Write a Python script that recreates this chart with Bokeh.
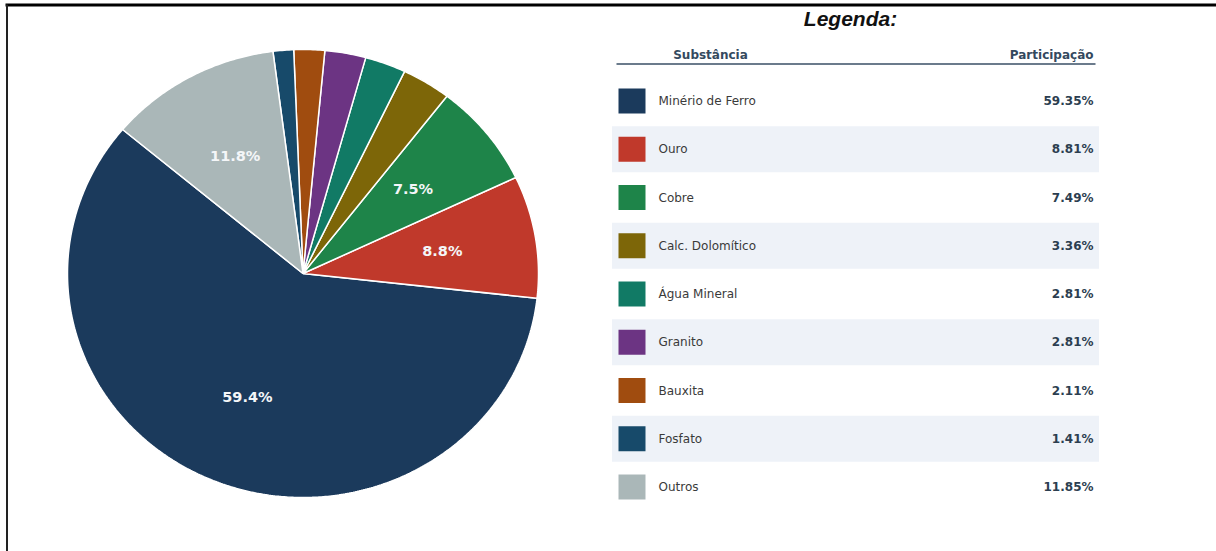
import numpy as np
from bokeh.plotting import figure
from bokeh.models import ColumnDataSource, Range1d
from bokeh.core.properties import value
from bokeh.embed import file_html
from bokeh.resources import INLINE

# ---- data ----
substancias = ["Minério de Ferro", "Ouro", "Cobre", "Calc. Dolomítico", "Água Mineral",
               "Granito", "Bauxita", "Fosfato", "Outros"]
participacao = [59.35, 8.81, 7.49, 3.36, 2.81, 2.81, 2.11, 1.41, 11.85]
cores = ["#1b3a5c", "#c0392b", "#1e8449", "#7d6608", "#117a65",
         "#6c3483", "#a04c0f", "#174a6a", "#aab7b8"]
titulo_legenda = "Legenda:"
cab_substancia = "Substância"
cab_participacao = "Participação"

# ---- layout constants (pixel space) ----
W, H = 1216, 551
cx, cy = 302.5, 273
rx, ry = 235.5, 224
start_deg = 140.0

p = figure(width=W, height=H, output_backend="svg", toolbar_location=None,
           x_range=Range1d(0, W), y_range=Range1d(H, 0), min_border=0)
p.axis.visible = False
p.grid.visible = False
p.outline_line_color = None
p.background_fill_color = "white"
p.border_fill_color = "white"

# frame lines (decoration)
p.line(x=[5, W], y=[4.5, 4.5], line_color="black", line_width=3)
p.line(x=[6.5, 6.5], y=[4, H], line_color="#222222", line_width=2)

# ---- pie ----
vals = np.array(participacao, dtype=float)
total = vals.sum()
angles = vals / total * 360.0
starts = start_deg + np.concatenate([[0], np.cumsum(angles)[:-1]])
ends = starts + angles
xs, ys = [], []
for a0, a1 in zip(starts, ends):
    t = np.radians(np.linspace(a0, a1, max(int(abs(a1 - a0)) * 2, 8)))
    xs.append(np.concatenate([[cx], cx + rx * np.cos(t), [cx]]).tolist())
    ys.append(np.concatenate([[cy], cy - ry * np.sin(t), [cy]]).tolist())
pie_src = ColumnDataSource(dict(xs=xs, ys=ys, color=cores))
p.patches(xs="xs", ys="ys", fill_color="color", line_color="white", line_width=1.5,
          source=pie_src)

lx, ly, lt = [], [], []
for v, a0, a1 in zip(participacao, starts, ends):
    if v > 5:
        m = np.radians((a0 + a1) / 2)
        lx.append(cx + 0.6 * rx * np.cos(m))
        ly.append(cy - 0.6 * ry * np.sin(m))
        lt.append(f"{v:.1f}%")
p.text(x=lx, y=ly, text=lt, text_font=value("DejaVu Sans"), text_font_style="bold",
       text_font_size="14.5px", text_color="#f4f6f8", text_align="center",
       text_baseline="middle")

# ---- legend table ----
row_y0, row_step = 100.5, 48.25
n = len(substancias)
row_y = [row_y0 + i * row_step for i in range(n)]
shade_y = [row_y[i] for i in range(n) if i % 2 == 1]
p.rect(x=[855] * len(shade_y), y=shade_y, width=487, height=46,
       fill_color="#eef2f8", line_color=None)

p.text(x=[850], y=[18], text=[titulo_legenda], text_font=value("Liberation Sans"),
       text_font_style="bold italic", text_font_size="21px", text_color="#111111",
       text_align="center", text_baseline="middle")
p.text(x=[710], y=[54], text=[cab_substancia], text_font=value("DejaVu Sans"),
       text_font_style="bold", text_font_size="12px", text_color="#34495e",
       text_align="center", text_baseline="middle")
p.text(x=[1093], y=[54], text=[cab_participacao], text_font=value("DejaVu Sans"),
       text_font_style="bold", text_font_size="12px", text_color="#34495e",
       text_align="right", text_baseline="middle")
p.line(x=[616, 1095], y=[63.5, 63.5], line_color="#6b7b8c", line_width=2)

tab = ColumnDataSource(dict(
    y=row_y, nome=substancias, cor=cores,
    pct=[f"{v:.2f}%" for v in participacao],
))
p.rect(x=631.5, y="y", width=27, height=25, fill_color="cor", line_color=None, source=tab)
p.text(x=658, y="y", text="nome", text_font=value("DejaVu Sans"), text_font_size="12px",
       text_color="#3a3a3a", text_align="left", text_baseline="middle", source=tab)
p.text(x=1093, y="y", text="pct", text_font=value("DejaVu Sans"), text_font_style="bold",
       text_font_size="12px", text_color="#2c3e50", text_align="right",
       text_baseline="middle", source=tab)

open("out.html", "w").write(file_html(p, INLINE))
